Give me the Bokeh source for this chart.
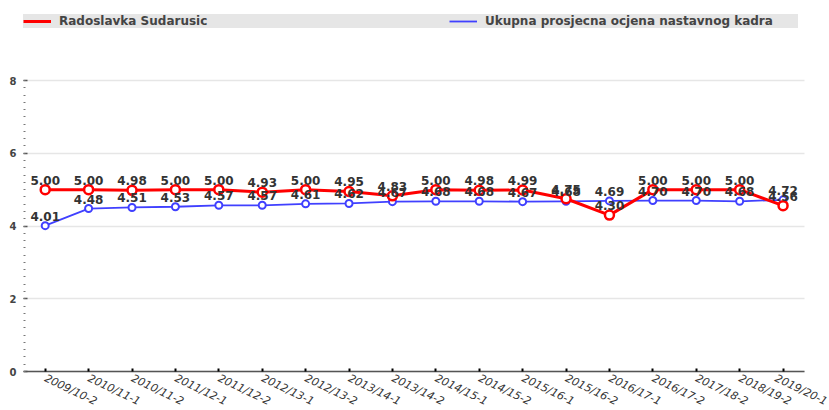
from bokeh.plotting import figure
from bokeh.models import (Range1d, FixedTicker, ColumnDataSource, Legend, LegendItem, LabelSet)
from bokeh.core.properties import value
from bokeh.embed import file_html
from bokeh.resources import INLINE

periods = ["2009/10-2", "2010/11-1", "2010/11-2", "2011/12-1", "2011/12-2", "2012/13-1",
           "2012/13-2", "2013/14-1", "2013/14-2", "2014/15-1", "2014/15-2", "2015/16-1",
           "2015/16-2", "2016/17-1", "2016/17-2", "2017/18-2", "2018/19-2", "2019/20-1"]
teacher = [5.00, 5.00, 4.98, 5.00, 5.00, 4.93, 5.00, 4.95, 4.83, 5.00, 4.98, 4.99,
           4.75, 4.30, 5.00, 5.00, 5.00, 4.56]
overall = [4.01, 4.48, 4.51, 4.53, 4.57, 4.57, 4.61, 4.62, 4.67, 4.68, 4.68, 4.67,
           4.68, 4.69, 4.70, 4.70, 4.68, 4.72]
y_ticks = [0, 2, 4, 6, 8]

xs = list(range(len(periods)))
src = ColumnDataSource(dict(
    x=xs, teacher=teacher, overall=overall,
    t_lbl=[f"{v:.2f}" for v in teacher], o_lbl=[f"{v:.2f}" for v in overall]))

n = len(periods)
p = figure(width=829, height=410, output_backend="svg", toolbar_location=None,
           x_range=Range1d(-0.5, 18.07), y_range=Range1d(-1.072, 10.2),
           min_border_left=23, min_border_right=0, min_border_top=0, min_border_bottom=0)
p.outline_line_color = None
p.background_fill_color = "white"

RED = "#ff0000"
BLUE = "#4040ff"

blue_line = p.line("x", "overall", source=src, line_color=BLUE, line_width=1.8)
p.scatter("x", "overall", source=src, size=7, fill_color="white", line_color=BLUE, line_width=2)
red_line = p.line("x", "teacher", source=src, line_color=RED, line_width=3)
p.scatter("x", "teacher", source=src, size=9, fill_color="white", line_color=RED, line_width=2.5)

for col, ycol in (("o_lbl", "overall"), ("t_lbl", "teacher")):
    p.add_layout(LabelSet(x="x", y=ycol, text=col, source=src, text_align="center",
                          text_baseline="bottom", y_offset=5, text_font=value("DejaVu Sans"),
                          text_font_style="bold", text_font_size="12px", text_color="#333333"))

# axes
p.xgrid.visible = False
p.ygrid.grid_line_color = "#e6e6e6"
p.ygrid.grid_line_width = 1.5
p.ygrid.cross_bounds = (-0.5, n - 0.5)

xa = p.xaxis[0]
xa.fixed_location = 0
xa.bounds = (-0.5, n - 0.5)
xa.ticker = FixedTicker(ticks=xs)
xa.major_label_overrides = {i: s for i, s in zip(xs, periods)}
xa.major_label_orientation = -0.45
xa.major_label_text_font = "DejaVu Sans"
xa.major_label_text_font_style = "italic"
xa.major_label_text_font_size = "11px"
xa.major_label_text_color = "#333333"
xa.major_label_standoff = 6
xa.axis_line_color = "#555555"
xa.axis_line_width = 1.5
xa.major_tick_in = 3
xa.major_tick_out = 0
xa.major_tick_line_color = "black"
xa.major_tick_line_width = 2
xa.minor_tick_line_color = None

ya = p.yaxis[0]
ya.ticker = FixedTicker(ticks=y_ticks, minor_ticks=[i * 0.2 for i in range(41)])
ya.axis_line_color = None
ya.major_tick_in = 4
ya.major_tick_out = 0
ya.major_tick_line_color = "#555555"
ya.major_tick_line_width = 1.5
ya.minor_tick_in = 2
ya.minor_tick_out = 0
ya.minor_tick_line_color = "#777777"
ya.major_label_text_font = "DejaVu Sans"
ya.major_label_text_font_style = "bold"
ya.major_label_text_font_size = "10px"
ya.major_label_text_color = "#444444"
ya.major_label_standoff = 7

legend = Legend(items=[LegendItem(label="Radoslavka Sudarusic", renderers=[red_line]),
                       LegendItem(label="Ukupna prosjecna ocjena nastavnog kadra", renderers=[blue_line])],
                orientation="horizontal", location=(0, 382), margin=0, padding=3,
                spacing=77, glyph_width=28, glyph_height=10, label_height=10, label_width=313,
                label_standoff=8, background_fill_color="#e6e6e6", background_fill_alpha=1,
                border_line_color=None, label_text_font="DejaVu Sans",
                label_text_font_style="bold", label_text_font_size="12px",
                label_text_color="#444444")
p.add_layout(legend)

open("out.html", "w").write(file_html(p, INLINE))
